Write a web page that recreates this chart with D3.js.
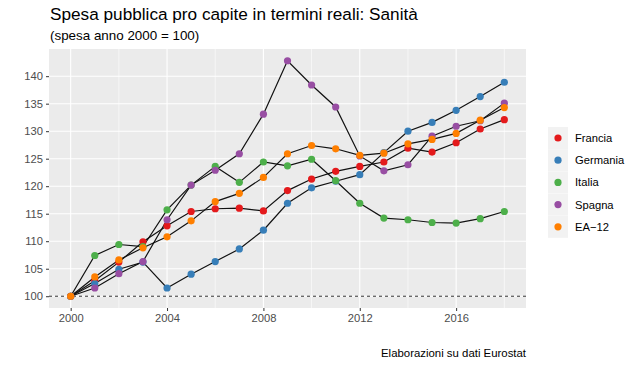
<!DOCTYPE html>
<html>
<head>
<meta charset="utf-8">
<script src="https://cdn.jsdelivr.net/npm/d3@7"></script>
<style>
  body { margin: 0; background: #fff; }
  text { font-family: "Liberation Sans", Arial, sans-serif; }
</style>
</head>
<body>
<div id="chart"></div>
<script>
"use strict";

// == DATA ==
var years = [2000, 2001, 2002, 2003, 2004, 2005, 2006, 2007, 2008, 2009,
             2010, 2011, 2012, 2013, 2014, 2015, 2016, 2017, 2018];

var francia  = [100, 102.8, 106.2, 109.9, 112.8, 115.4, 115.9, 116.0, 115.5, 119.2,
                121.3, 122.7, 123.6, 124.4, 126.9, 126.2, 127.9, 130.4, 132.1];
var germania = [100, 102.3, 104.9, 106.2, 101.5, 104.0, 106.3, 108.6, 112.0, 116.9,
                119.7, 120.9, 122.1, 126.1, 130.0, 131.6, 133.8, 136.3, 138.9];
var italia   = [100, 107.4, 109.4, 109.0, 115.7, 120.2, 123.6, 120.7, 124.4, 123.7,
                124.9, 121.0, 116.9, 114.2, 113.9, 113.4, 113.3, 114.1, 115.4];
var spagna   = [100, 101.5, 104.1, 106.3, 113.9, 120.2, 122.9, 125.9, 133.1, 142.8,
                138.4, 134.4, 125.5, 122.8, 123.9, 129.1, 130.9, 131.9, 135.1];
var ea12     = [100, 103.5, 106.6, 108.8, 110.8, 113.7, 117.2, 118.7, 121.6, 125.9,
                127.4, 126.8, 125.6, 126.0, 127.7, 128.5, 129.6, 132.0, 134.3];

var seriesNames = ["Francia", "Germania", "Italia", "Spagna", "EA\u221212"];
var seriesValues = [francia, germania, italia, spagna, ea12];
var colors = ["#E41A1C", "#377EB8", "#4DAF4A", "#984EA3", "#FF7F00"];

var xTicks = [2000, 2004, 2008, 2012, 2016];
var xMinor = [2002, 2006, 2010, 2014, 2018];
var yTicks = [100, 105, 110, 115, 120, 125, 130, 135, 140];

// == BOILERPLATE ==
var W = 640, H = 366;
var panel = { left: 49, right: 526, top: 49, bottom: 308 };

var svg = d3.select("#chart")
  .append("svg")
  .attr("width", W)
  .attr("height", H);

// ggplot-style 5% expansion
var xExt = d3.extent(years);
var xPad = (xExt[1] - xExt[0]) * 0.05;
var allVals = d3.merge(seriesValues);
var yExt = d3.extent(allVals);
var yPad = (yExt[1] - yExt[0]) * 0.05;

var x = d3.scaleLinear()
  .domain([xExt[0] - xPad, xExt[1] + xPad])
  .range([panel.left, panel.right]);
var y = d3.scaleLinear()
  .domain([yExt[0] - yPad, yExt[1] + yPad])
  .range([panel.bottom, panel.top]);

// == TITLES ==
svg.append("text")
  .attr("x", 50).attr("y", 20)
  .attr("font-size", 17.2)
  .attr("fill", "#000")
  .text("Spesa pubblica pro capite in termini reali: Sanità");
svg.append("text")
  .attr("x", 50).attr("y", 40)
  .attr("font-size", 13.4)
  .attr("fill", "#000")
  .text("(spesa anno 2000 = 100)");

// == PANEL ==
svg.append("rect")
  .attr("x", panel.left).attr("y", panel.top)
  .attr("width", panel.right - panel.left)
  .attr("height", panel.bottom - panel.top)
  .attr("fill", "#EBEBEB");

var grid = svg.append("g");
grid.selectAll(".xminor")
  .data(xMinor)
  .enter().append("line")
  .attr("x1", function (d) { return x(d); })
  .attr("x2", function (d) { return x(d); })
  .attr("y1", panel.top).attr("y2", panel.bottom)
  .attr("stroke", "#fff").attr("stroke-width", 0.6);
grid.selectAll(".xmajor")
  .data(xTicks)
  .enter().append("line")
  .attr("x1", function (d) { return x(d); })
  .attr("x2", function (d) { return x(d); })
  .attr("y1", panel.top).attr("y2", panel.bottom)
  .attr("stroke", "#fff").attr("stroke-width", 1.1);
grid.selectAll(".ymajor")
  .data(yTicks)
  .enter().append("line")
  .attr("x1", panel.left).attr("x2", panel.right)
  .attr("y1", function (d) { return y(d); })
  .attr("y2", function (d) { return y(d); })
  .attr("stroke", "#fff").attr("stroke-width", 1.1);

// reference line at 100
svg.append("line")
  .attr("x1", panel.left).attr("x2", panel.right)
  .attr("y1", y(100)).attr("y2", y(100))
  .attr("stroke", "#333").attr("stroke-width", 1)
  .attr("stroke-dasharray", "3,3");

// == AXES ==
var xAxis = svg.append("g")
  .attr("transform", "translate(0," + panel.bottom + ")")
  .call(d3.axisBottom(x).tickValues(xTicks).tickFormat(d3.format("d")).tickSize(3).tickPadding(3));
var yAxis = svg.append("g")
  .attr("transform", "translate(" + panel.left + ",0)")
  .call(d3.axisLeft(y).tickValues(yTicks).tickSize(3).tickPadding(3));
[xAxis, yAxis].forEach(function (a) {
  a.select(".domain").remove();
  a.selectAll(".tick line").attr("stroke", "#333").attr("stroke-width", 1);
  a.selectAll(".tick text").attr("fill", "#4D4D4D").attr("font-size", 11.2)
    .style("font-family", "Liberation Sans, Arial, sans-serif");
});

// == LINES & POINTS ==
var line = d3.line()
  .x(function (d, i) { return x(years[i]); })
  .y(function (d) { return y(d); });

svg.append("g").selectAll("path")
  .data(seriesValues)
  .enter().append("path")
  .attr("d", line)
  .attr("fill", "none")
  .attr("stroke", "#111")
  .attr("stroke-width", 1.2);

seriesValues.forEach(function (vals, s) {
  svg.append("g").selectAll("circle")
    .data(vals)
    .enter().append("circle")
    .attr("cx", function (d, i) { return x(years[i]); })
    .attr("cy", function (d) { return y(d); })
    .attr("r", 3.6)
    .attr("fill", colors[s]);
});

// == LEGEND ==
var legend = svg.append("g").attr("transform", "translate(548,127)");
var items = legend.selectAll("g")
  .data(seriesNames)
  .enter().append("g")
  .attr("transform", function (d, i) { return "translate(0," + (i * 22.2) + ")"; });
items.append("rect")
  .attr("width", 20).attr("height", 22)
  .attr("fill", "#F2F2F2");
items.append("circle")
  .attr("cx", 10).attr("cy", 11).attr("r", 3.6)
  .attr("fill", function (d, i) { return colors[i]; });
items.append("text")
  .attr("x", 27).attr("y", 15)
  .attr("font-size", 11.2)
  .attr("fill", "#000")
  .text(function (d) { return d; });

// == CAPTION ==
svg.append("text")
  .attr("x", panel.right).attr("y", 357)
  .attr("text-anchor", "end")
  .attr("font-size", 11.4)
  .attr("fill", "#000")
  .text("Elaborazioni su dati Eurostat");
</script>
</body>
</html>
